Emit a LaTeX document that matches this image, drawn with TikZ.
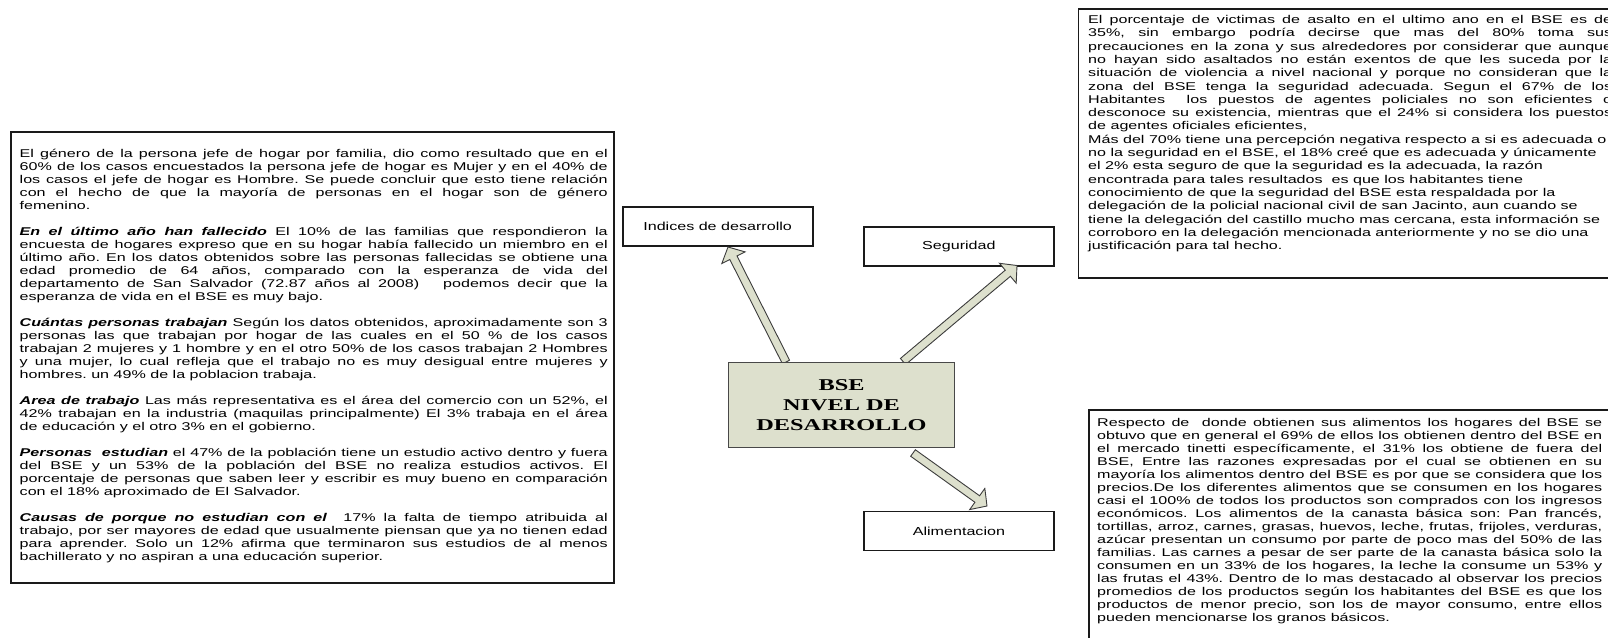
\documentclass[tikz,border=0pt]{standalone}
\usepackage{fontspec}
\usepackage{graphicx}
\setmainfont{Liberation Sans}
\newfontfamily\titleserif{Liberation Serif}
\usetikzlibrary{calc}

\definecolor{boxfill}{HTML}{DDE0CD}
\definecolor{edge}{HTML}{1A1A1A}

\hbadness=10000
\hfuzz=60pt
\frenchspacing

% one justified line, one ragged line, one blank line
\newlength\colw
\newcommand\jl[1]{\hbox to \colw{#1}}
\newcommand\rl[1]{\hbox{#1}}
\newcommand\gap{\vskip\baselineskip}
\newcommand\bi[1]{\textbf{\textit{#1}}}

% a block of text set wide and squat: width, line pitch, lines
\newcommand\textblock[3]{%
  \scalebox{1}[0.7]{\fontsize{16.1}{#2}\selectfont\colw=#1\relax\vtop{#3}}}
\newcommand\labeltext[1]{%
  \scalebox{1}[0.72]{\fontsize{16.1}{18}\selectfont #1}}

% a wide block arrow from #1 to #2
\newcommand\blockarrow[2]{%
  \coordinate (ba-h) at ($(#2)!12pt!(#1)$);
  \draw[blockarr] ($(#1)!4pt!90:(#2)$) -- ($(ba-h)!4pt!90:(#2)$)
    -- ($(ba-h)!13pt!90:(#2)$) -- (#2) -- ($(ba-h)!13pt!-90:(#2)$)
    -- ($(ba-h)!4pt!-90:(#2)$) -- ($(#1)!4pt!-90:(#2)$) -- cycle;}

\tikzset{
  frame/.style={draw=edge, line width=1.8pt, fill=white, inner sep=0pt, anchor=north west},
  labelbox/.style={draw=edge, line width=1.8pt, fill=white, inner sep=0pt,
    anchor=north west, minimum width=190pt, minimum height=39pt},
  bsebox/.style={draw=edge!80, line width=1pt, fill=boxfill, inner sep=0pt,
    anchor=north west, minimum width=226pt, minimum height=85pt},
  blockarr/.style={draw=edge!85, line width=0.9pt, fill=boxfill, line join=miter},
  body/.style={inner sep=0pt, anchor=base west}
}

\begin{document}
\begin{tikzpicture}[x=1pt,y=-1pt]
\useasboundingbox (0,0) rectangle (1608,637);
\clip (0,0) rectangle (1608,637);

% ---------- left column ----------
\node[frame, minimum width=603pt, minimum height=451pt] (leftbox) at (10,130.7) {};
\node[body] (lefttext) at (19.5,157) {\textblock{588pt}{18.6}{%
\jl{El género de la persona jefe de hogar por familia, dio como resultado que en el}
\jl{60\% de los casos encuestados la persona jefe de hogar es Mujer y en el 40\% de}
\jl{los casos el jefe de hogar es Hombre. Se puede concluir que esto tiene relación}
\jl{con el hecho de que la mayoría de personas en el hogar son de género}
\rl{femenino.}
\gap
\jl{\bi{En el último año han fallecido} El 10\% de las familias que respondieron la}
\jl{encuesta de hogares expreso que en su hogar había fallecido un miembro en el}
\jl{último año. En los datos obtenidos sobre las personas fallecidas se obtiene una}
\jl{edad promedio de 64 años, comparado con la esperanza de vida del}
\jl{departamento de San Salvador (72.87 años al 2008)\ \ \ podemos decir que la}
\rl{esperanza de vida en el BSE es muy bajo.}
\gap
\jl{\bi{Cuántas personas trabajan} Según los datos obtenidos, aproximadamente son 3}
\jl{personas las que trabajan por hogar de las cuales en el 50 \% de los casos}
\jl{trabajan 2 mujeres y 1 hombre y en el otro 50\% de los casos trabajan 2 Hombres}
\jl{y una mujer, lo cual refleja que el trabajo no es muy desigual entre mujeres y}
\rl{hombres. un 49\% de la poblacion trabaja.}
\gap
\jl{\bi{Area de trabajo} Las más representativa es el área del comercio con un 52\%, el}
\jl{42\% trabajan en la industria (maquilas principalmente) El 3\% trabaja en el área}
\rl{de educación y el otro 3\% en el gobierno.}
\gap
\jl{\bi{Personas\ \ estudian} el 47\% de la población tiene un estudio activo dentro y fuera}
\jl{del BSE y un 53\% de la población del BSE no realiza estudios activos. El}
\jl{porcentaje de personas que saben leer y escribir es muy bueno en comparación}
\rl{con el 18\% aproximado de El Salvador.}
\gap
\jl{\bi{Causas de porque no estudian con el}\ \ 17\% la falta de tiempo atribuida al}
\jl{trabajo, por ser mayores de edad que usualmente piensan que ya no tienen edad}
\jl{para aprender. Solo un 12\% afirma que terminaron sus estudios de al menos}
\rl{bachillerato y no aspiran a una educación superior.}
}};

% ---------- right column ----------
\node[frame, minimum width=600pt, minimum height=269pt] (segbox) at (1077.5,8.3) {};
\node[body] (segtext) at (1088,23.5) {\textblock{524pt}{19}{%
\jl{El porcentaje de victimas de asalto en el ultimo ano en el BSE es de}
\jl{35\%, sin embargo podría decirse que mas del 80\% toma sus}
\jl{precauciones en la zona y sus alrededores por considerar que aunque}
\jl{no hayan sido asaltados no están exentos de que les suceda por la}
\jl{situación de violencia a nivel nacional y porque no consideran que la}
\jl{zona del BSE tenga la seguridad adecuada. Segun el 67\% de los}
\jl{Habitantes\ \ los puestos de agentes policiales no son eficientes o}
\jl{desconoce su existencia, mientras que el 24\% si considera los puestos}
\rl{de agentes oficiales eficientes,}
\rl{Más del 70\% tiene una percepción negativa respecto a si es adecuada o}
\rl{no la seguridad en el BSE, el 18\% creé que es adecuada y únicamente}
\rl{el 2\% esta seguro de que la seguridad es la adecuada, la razón}
\rl{encontrada para tales resultados\ \ es que los habitantes tiene}
\rl{conocimiento de que la seguridad del BSE esta respaldada por la}
\rl{delegación de la policial nacional civil de san Jacinto, aun cuando se}
\rl{tiene la delegación del castillo mucho mas cercana, esta información se}
\rl{corroboro en la delegación mencionada anteriormente y no se dio una}
\rl{justificación para tal hecho.}
}};

\node[frame, minimum width=600pt, minimum height=300pt] (alibox) at (1088,409) {};
\node[body] (alitext) at (1097,426.5) {\textblock{505pt}{18.6}{%
\jl{Respecto de\ \ donde obtienen sus alimentos los hogares del BSE se}
\jl{obtuvo que en general el 69\% de ellos los obtienen dentro del BSE en}
\jl{el mercado tinetti específicamente, el 31\% los obtiene de fuera del}
\jl{BSE, Entre las razones expresadas por el cual se obtienen en su}
\jl{mayoría los alimentos dentro del BSE es por que se considera que los}
\jl{precios.De los diferentes alimentos que se consumen en los hogares}
\jl{casi el 100\% de todos los productos son comprados con los ingresos}
\jl{económicos. Los alimentos de la canasta básica son: Pan francés,}
\jl{tortillas, arroz, carnes, grasas, huevos, leche, frutas, frijoles, verduras,}
\jl{azúcar presentan un consumo por parte de poco mas del 50\% de las}
\jl{familias. Las carnes a pesar de ser parte de la canasta básica solo la}
\jl{consumen en un 33\% de los hogares, la leche la consume un 53\% y}
\jl{las frutas el 43\%. Dentro de lo mas destacado al observar los precios}
\jl{promedios de los productos según los habitantes del BSE es que los}
\jl{productos de menor precio, son los de mayor consumo, entre ellos}
\rl{pueden mencionarse los granos básicos.}
}};

% ---------- centre: topic boxes and arrows ----------
\node[labelbox] (indices) at (621.7,206) {\labeltext{Indices de desarrollo}};
\node[labelbox] (seguridad) at (863,226) {\labeltext{Seguridad}};
\node[labelbox] (alimentacion) at (863,510.5) {\labeltext{Alimentacion}};

\coordinate (a1s) at (786,362);   \coordinate (a1e) at (728,247);
\coordinate (a2s) at (903,361.5); \coordinate (a2e) at (1017,265.5);
\coordinate (a3s) at (913,453);   \coordinate (a3e) at (987,506);
\blockarrow{a1s}{a1e}
\blockarrow{a2s}{a2e}
\blockarrow{a3s}{a3e}

\node[bsebox] (bse) at (728,361.7) {\scalebox{1}[0.68]{\parbox{220pt}{\centering
  \fontsize{24.3}{29.4}\selectfont\titleserif\bfseries BSE\\NIVEL DE\\DESARROLLO}}};
\end{tikzpicture}
\end{document}
